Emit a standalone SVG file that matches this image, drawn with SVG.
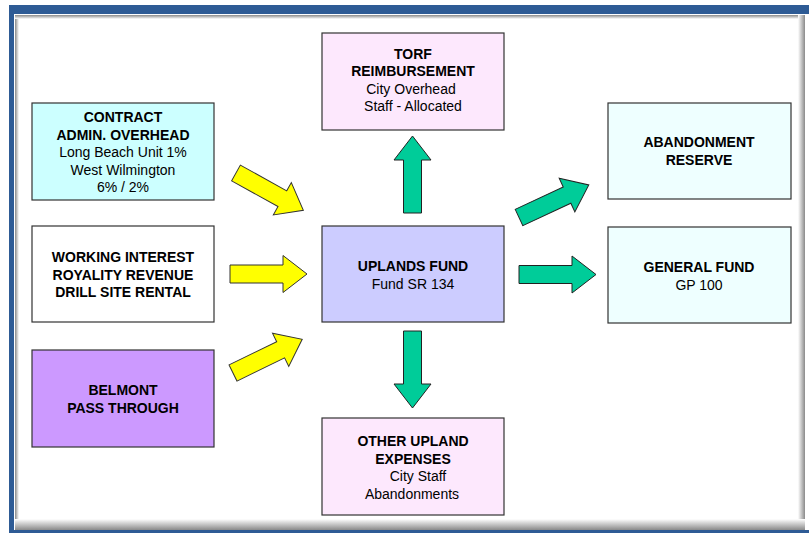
<svg xmlns="http://www.w3.org/2000/svg" width="809" height="534" viewBox="0 0 809 534">
<style>
.box{stroke:#333;stroke-width:1.2}
text{font-family:"Liberation Sans",Arial,sans-serif;font-size:14px;fill:#000;text-anchor:middle}
.b{font-weight:bold}
.ya{fill:#ffff00;stroke:#333;stroke-width:1}
.ga{fill:#00cc99;stroke:#222;stroke-width:1}
</style>
<defs>
<linearGradient id="gr" x1="0" y1="0" x2="1" y2="0"><stop offset="0" stop-color="#fff"/><stop offset="1" stop-color="#8a8a8a"/></linearGradient>
<linearGradient id="gb" x1="0" y1="0" x2="0" y2="1"><stop offset="0" stop-color="#fff"/><stop offset="1" stop-color="#8a8a8a"/></linearGradient>
<linearGradient id="gl" x1="0" y1="0" x2="1" y2="0"><stop offset="0" stop-color="#888"/><stop offset="1" stop-color="#fff"/></linearGradient>
<linearGradient id="gt" x1="0" y1="0" x2="0" y2="1"><stop offset="0" stop-color="#888"/><stop offset="1" stop-color="#fff"/></linearGradient>
<path id="arr" d="M0,-9 L53,-9 L53,-18.5 L77,0 L53,18.5 L53,9 L0,9 Z"/>
</defs>
<g id="frame">
<rect x="9" y="5" width="810" height="528" fill="#2e5b95"/>
<rect x="14" y="14" width="800" height="516" fill="#fff"/>
<rect x="15" y="15" width="790" height="515" fill="#fff"/>
<rect x="15" y="15" width="4" height="515" fill="url(#gl)"/>
<rect x="15" y="15" width="790" height="4" fill="url(#gt)"/>
<rect x="798" y="15" width="7" height="515" fill="url(#gr)"/>
<rect x="15" y="519" width="790" height="11" fill="url(#gb)"/>
</g>
<g id="connectors">
<use href="#arr" class="ya" transform="translate(236,173) rotate(29)"/>
<use href="#arr" class="ya" transform="translate(230,274)"/>
<use href="#arr" class="ya" transform="translate(233,373) rotate(-26)"/>
<use href="#arr" class="ga" transform="translate(412.5,213) rotate(-90)"/>
<use href="#arr" class="ga" transform="translate(412.5,331) rotate(90)"/>
<use href="#arr" class="ga" transform="translate(519,274.5)"/>
<use href="#arr" class="ga" transform="translate(519,217.5) rotate(-25)"/>
</g>
<g id="torf">
<rect class="box" x="322" y="33" width="182" height="97" fill="#fde8fd"/>
<text class="b" x="413" y="58.5">TORF</text>
<text class="b" x="413" y="76">REIMBURSEMENT</text>
<text x="411" y="93.5">City Overhead</text>
<text x="413" y="111">Staff - Allocated</text>
</g>
<g id="contract">
<rect class="box" x="32" y="103" width="182" height="97" fill="#ccffff"/>
<text class="b" x="123" y="122">CONTRACT</text>
<text class="b" x="123" y="139.5">ADMIN. OVERHEAD</text>
<text x="123" y="157">Long Beach Unit 1%</text>
<text x="123" y="174.5">West Wilmington</text>
<text x="123" y="192">6% / 2%</text>
</g>
<g id="working">
<rect class="box" x="32" y="226" width="182" height="96" fill="#ffffff"/>
<text class="b" x="123" y="262">WORKING INTEREST</text>
<text class="b" x="123" y="279.5">ROYALITY REVENUE</text>
<text class="b" x="123" y="297">DRILL SITE RENTAL</text>
</g>
<g id="belmont">
<rect class="box" x="32" y="350" width="182" height="97" fill="#cc99ff"/>
<text class="b" x="123" y="395">BELMONT</text>
<text class="b" x="123" y="412.5">PASS THROUGH</text>
</g>
<g id="uplands">
<rect class="box" x="322" y="226" width="182" height="96" fill="#ccccff"/>
<text class="b" x="413" y="271">UPLANDS FUND</text>
<text x="413" y="289">Fund SR 134</text>
</g>
<g id="other">
<rect class="box" x="322" y="418" width="182" height="97" fill="#fde8fd"/>
<text class="b" x="413" y="446">OTHER UPLAND</text>
<text class="b" x="413" y="463.5">EXPENSES</text>
<text x="418" y="481">City Staff</text>
<text x="412" y="498.5">Abandonments</text>
</g>
<g id="abandonment">
<rect class="box" x="608" y="103" width="183" height="96" fill="#eeffff"/>
<text class="b" x="699" y="147">ABANDONMENT</text>
<text class="b" x="699" y="164.5">RESERVE</text>
</g>
<g id="general">
<rect class="box" x="608" y="227" width="183" height="96" fill="#eeffff"/>
<text class="b" x="699" y="272">GENERAL FUND</text>
<text x="699" y="289.5">GP 100</text>
</g>
</svg>
